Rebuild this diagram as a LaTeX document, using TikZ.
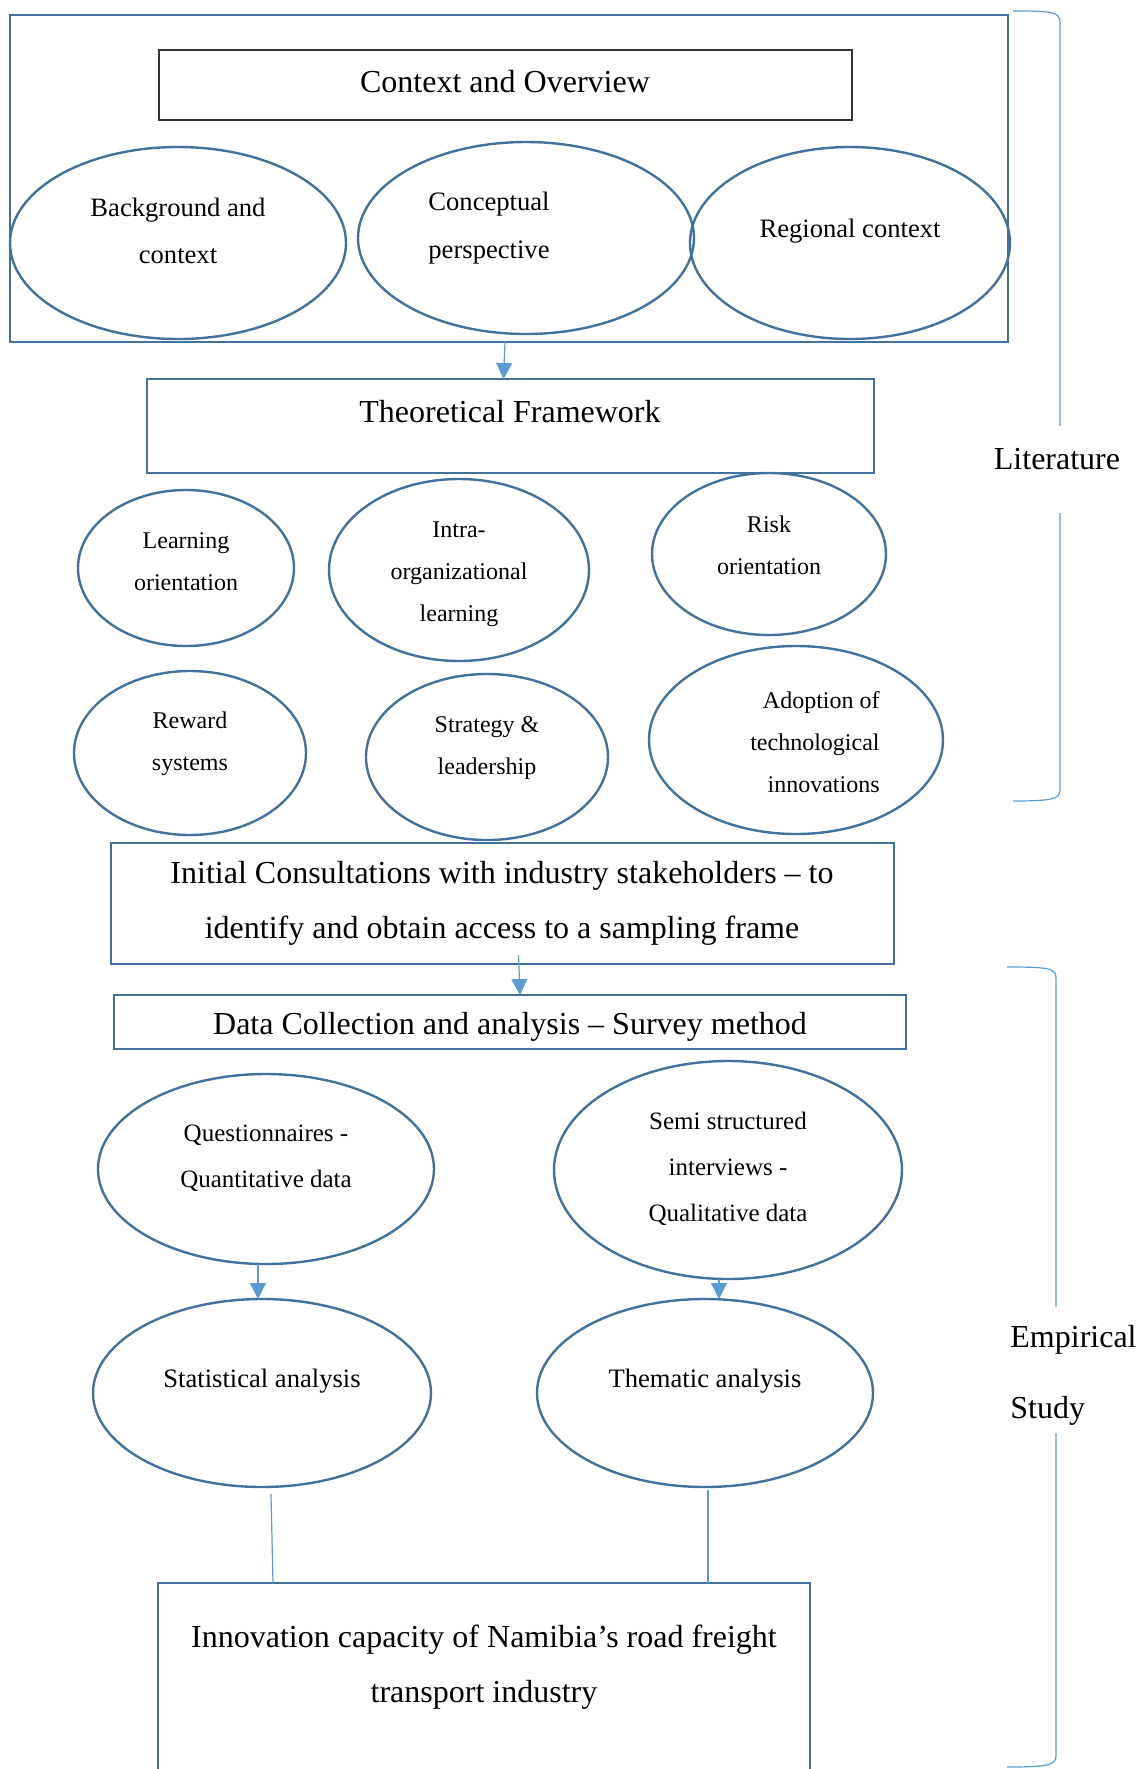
\documentclass[tikz,border=0pt]{standalone}
\usepackage{fontspec}
\setmainfont{Liberation Serif}
\usetikzlibrary{shapes.geometric,arrows.meta,calc}
\definecolor{elc}{HTML}{41719C}
\definecolor{arc}{HTML}{5B9BD5}
\begin{document}
\begin{tikzpicture}[x=0.5pt,y=-0.5pt,
  ell/.style 2 args={ellipse, draw=elc, line width=1.2pt, minimum width=#1pt, minimum height=#2pt, inner sep=0pt, outer sep=0pt},
  box/.style 2 args={rectangle, draw=elc, line width=1.3pt, minimum width=#1pt, minimum height=#2pt, inner sep=0pt, outer sep=0pt},
  tbig/.style={align=center, inner sep=0pt, yshift=-1.5pt, font=\fontsize{16}{27.6}\selectfont},
  tmid/.style={align=center, inner sep=0pt, yshift=-1.5pt, font=\fontsize{13.3}{23.7}\selectfont},
  tsml/.style={align=center, inner sep=0pt, yshift=-1pt, font=\fontsize{12}{21}\selectfont},
  tq/.style={align=center, inner sep=0pt, yshift=-1.5pt, font=\fontsize{12.5}{23}\selectfont},
  arr/.style={draw=arc, line width=0.6pt, -{Triangle[length=8pt,width=8pt]}},
  lnk/.style={draw=arc, line width=0.6pt},
  brk/.style={draw=arc, line width=0.6pt}]
\useasboundingbox (0,0) rectangle (1137,1769);
\clip (0,0) rectangle (1137,1769);

% ---- Literature part
\node[box={499}{163.5}] (outer) at (509,178.5) {};
\node[box={346.5}{35}, draw=black!80, line width=0.9pt] (ctx) at (505.5,85) {};
\node[tbig] (ctxt) at (505,79) {Context and Overview};

\node[ell={168}{96}] (bg) at (178,243) {};
\node[tmid] (bgt) at (178,228) {Background and\\context};
\node[ell={168}{96}] (cp) at (526,238) {};
\node[tmid] (cpt) at (489,225) {Conceptual\\perspective};
\node[ell={160}{96}] (rg) at (850,243) {};
\node[tmid] (rgt) at (850,228) {Regional context};

\node[box={363.5}{47}] (theo) at (510.5,426) {};
\node[tbig] (theot) at (510,409) {Theoretical Framework};
\draw[arr] ([xshift=-2pt]outer.south) -- ([xshift=-3.5pt]theo.north);

\node[ell={108}{78}] (lo) at (186,568) {};
\node[tsml] (lot) at (186,560) {Learning\\orientation};
\node[ell={130}{91}] (io) at (459,570) {};
\node[tsml] (iot) at (459,572) {Intra-\\organizational\\learning};
\node[ell={117}{81}] (ro) at (769,554) {};
\node[tsml] (rot) at (769,543) {Risk\\orientation};

\node[ell={116}{82}] (rw) at (190,753) {};
\node[tsml] (rwt) at (190,742) {Reward\\systems};
\node[ell={121}{83}] (sl) at (487,757) {};
\node[tsml] (slt) at (487,746) {Strategy \&\\leadership};
\node[ell={147}{94}] (ad) at (796,740) {};
\node[tsml, align=right, anchor=east] (adt) at (880,740) {Adoption of\\technological\\innovations};

% Literature bracket
\node[tbig] (lit) at (1057,456) {Literature};
\draw[brk] (1013,11) .. controls (1052,11) and (1060,12) .. (1060,22) -- (1060,426);
\draw[brk] (1060,513) -- (1060,790) .. controls (1060,799) and (1052,801) .. (1013,801);

% ---- Empirical part
\node[box={391.5}{60.5}] (init) at (502.5,903.5) {};
\node[tbig] (initt) at (502,900.5) {Initial Consultations with industry stakeholders -- to\\identify and obtain access to a sampling frame};
\node[box={396}{27}] (data) at (510,1022) {};
\node[tbig] (datat) at (510,1024) {Data Collection and analysis -- Survey method};
\draw[arr] ([xshift=8pt,yshift=4.5pt]init.south) -- ([xshift=5pt]data.north);

\node[ell={168}{95}] (q) at (266,1169) {};
\node[tq] (qt) at (266,1155) {Questionnaires -\\Quantitative data};
\node[ell={174}{109}] (ss) at (728,1170) {};
\node[tq] (sst) at (728,1166) {Semi structured\\interviews -\\Qualitative data};

\node[ell={169}{94}] (st) at (262,1393) {};
\node[tmid] (stt) at (262,1378) {Statistical analysis};
\node[ell={168}{94}] (th) at (705,1393) {};
\node[tmid] (tht) at (705,1378) {Thematic analysis};

\draw[arr] ([xshift=-4pt]q.south) -- ([xshift=-2pt]st.north);
\draw[arr] ([xshift=-4.5pt]ss.south) -- ([xshift=-4.5pt]ss.south |- th.north);

\node[box={326}{110}, anchor=north] (inv) at (484,1583) {};
\node[tbig] (invt) at (484,1664) {Innovation capacity of Namibia’s road freight\\transport industry};
\draw[lnk] ([xshift=4.5pt,yshift=-3.5pt]st.south) -- ([xshift=5.5pt]st.south |- inv.north);
\draw[lnk] ([xshift=1.5pt,yshift=-1.5pt]th.south) -- ([xshift=1.5pt]th.south |- inv.north);

% Empirical bracket
\node[tbig, anchor=west] (emp) at (1010,1337) {Empirical};
\node[tbig, anchor=west] (stu) at (1010,1408) {Study};
\draw[brk] (1007,967) .. controls (1048,967) and (1056,968) .. (1056,978) -- (1056,1307);
\draw[brk] (1056,1433) -- (1056,1756) .. controls (1056,1765) and (1048,1767) .. (1007,1767);
\end{tikzpicture}
\end{document}
